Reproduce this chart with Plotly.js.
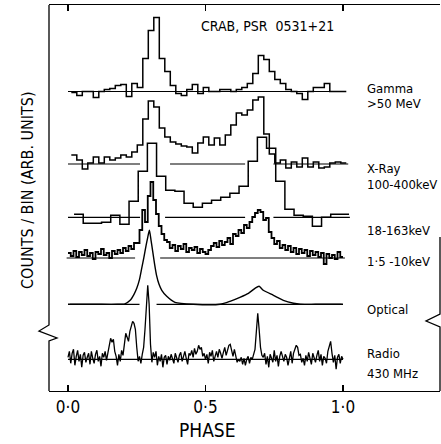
<!DOCTYPE html>
<html><head><meta charset="utf-8">
<script src="https://cdn.plot.ly/plotly-3.0.1.min.js"></script>
<style>html,body{margin:0;padding:0;background:#fff}</style>
</head><body><div id="chart" style="width:441px;height:444px"></div>
<script>
// ---- data (arbitrary units) ----
const phaseTicks = [0, 0.5, 1.0];
const phaseTickLabels = ['0·0', '0·5', '1·0'];

// Gamma >50 MeV, 50 bins
const gammaCounts = [-1,-4,0,0,-6,0,2,3,6,7,-5,8,4,33,61,74,33,20,6,-2,-4,2,7,-2,4,0,0,2,2,0,2,4,8,18,36,32,20,12,8,2,0,-2,-8,0,4,4,8,0,0,0];
// X-Ray 100-400 keV, 50 bins
const xrayHardCounts = [9,4,-5,1,7,1,7,4,6,9,7,12,19,45,63,57,36,27,22,20,18,17,11,21,27,19,26,19,29,39,51,49,54,64,67,30,10,1,4,-4,2,-3,6,-3,2,-4,-3,1,2,1];
// 18-163 keV, 30 bins
const xrayMidCounts = [3,-6,-6,-5,2,-7,16,46,74,41,27,26,14,10,14,17,20,24,31,56,80,69,36,8,2,1,-9,0,3,3];
// 1.5-10 keV, 100 bins
const xraySoftCounts = [5,2,7,1,6,3,8,2,5,-1,6,4,9,3,5,0,7,4,8,5,10,7,12,9,15,15,28,48,36,62,76,58,44,32,24,18,16,10,13,7,12,9,14,6,10,8,11,5,9,6,4,8,12,15,11,17,13,16,20,14,24,22,28,25,33,30,36,41,45,48,46,38,40,26,20,14,17,10,13,8,12,6,10,4,9,5,8,2,7,3,6,1,5,-6,4,0,3,-1,6,1];
// Optical
const opticalPhase = [0,0.1,0.18,0.207,0.226,0.24,0.25,0.26,0.268,0.276,0.284,0.29,0.296,0.302,0.308,0.315,0.322,0.331,0.341,0.359,0.389,0.456,0.553,0.589,0.625,0.656,0.68,0.695,0.71,0.747,0.783,0.82,0.844,0.9,1.0];
const opticalFlux  = [0,0,0,0.5,4,10,16,25,36,47,59,67,74,64,53,40,29,20,14,8,2,0,0,3,7,11,16,18,14,9,4,1,0,0,0];
// Radio 430 MHz, 201 samples (phase step 0.005)
const radioFlux = [2,8,-4,6,10,-6,3,9,-2,5,-8,4,7,-3,2,6,-5,8,1,-4,5,9,-2,3,-7,6,2,8,-1,
  6,14,21,17,20,8, 3,-6,5,-2,9,4, 15,26,22,18, 28,33,38,36,30, 12,-2,3,-4,
  5,12,30,60,74,55,15,-3,
  7,2,8,-6,3,-2,5,-8,2,4,-5,3,-1,5,1,-4,6,2,-3,4,7,-2,3,8,1,-5,6,4,9,2,11,5,8,14,10,12,3,6,0,
  5,-4,7,3,9,-2,4,8,2,10,6,1, 7,12,4,9,14,15,8,3,10,2,-3,0, -2,2,-5,1,-6,0,3,-4,2,0,4,10,
  28,46,30,12,4,2, 6,-5,3,-8,5,1,-3,9,-2,4,-7,3,8,3,-2,5,2,-6,
  2,8,-4,6,10,14,12,4,5,-3,1,-6,4,-2,7,2,-5,6,1,-3,
  4,9,-2,5,-6,3,1,-4,8,12,18,6,-3,4,-10,2,5,-4,3,0];
const labelTexts = [['Gamma','>50 MeV'],['X-Ray','100-400keV'],['18-163keV'],['1·5 -10keV'],['Optical'],['Radio','430 MHz']];
const titleText = 'CRAB, PSR  0531+21';

// ---- layout helpers (pixel geometry of the figure) ----
const W = 441, H = 444, ML = 49, MR = 1, MT = 5, MB = 53;
const PW = W - ML - MR, PH = H - MT - MB;
const px2phase = px => (px - 68) / 275;
const xr = [px2phase(ML), px2phase(W - MR)];
const py2y = py => (MT + PH) - py;       // y axis in pixel units, 0 at bottom
const ppx = px => (px - ML) / PW, ppy = py => (MT + PH - py) / PH;

const base = {gamma: py2y(91.5), hard: py2y(164), mid: py2y(217.3), soft: py2y(258), opt: py2y(304.3), radio: py2y(359.3)};
const gaps = {
  gamma: [[0, 1]],
  hard: [[0, 0.262], [0.371, 0.644], [0.747, 1.019]],
  mid: [[0, 0.262], [0.353, 0.644], [0.747, 1.025]],
  soft: [[-0.005, 0.244], [0.335, 1.007]],
  opt: [[0.007, 0.26], [0.322, 0.995]],
  radio: [[0, 1]]
};
const LC = '#000';
function hist(vals, p0, w, b, lw) {
  const x = [], y = [];
  vals.forEach((v, i) => { x.push(p0 + i * w); y.push(b + v); });
  x.push(p0 + vals.length * w); y.push(b + vals[vals.length - 1]);
  return {x, y, mode: 'lines', line: {shape: 'hv', color: LC, width: lw}, hoverinfo: 'skip'};
}
function baseline(key) {
  const x = [], y = [];
  gaps[key].forEach(s => { x.push(s[0], s[1], null); y.push(base[key], base[key], null); });
  return {x, y, mode: 'lines', line: {color: LC, width: 1.2}, hoverinfo: 'skip', connectgaps: false};
}
const traces = [];
['gamma','hard','mid','soft','opt','radio'].forEach(k => traces.push(baseline(k)));
traces.push(hist(gammaCounts, 0.012, 0.02, base.gamma, 1.5));
traces.push(hist(xrayHardCounts, 0.012, 0.02, base.hard, 1.5));
traces.push(hist(xrayMidCounts, 0.022, 1/30, base.mid, 1.5));
traces.push(hist(xraySoftCounts, 0, 0.01, base.soft, 1.8));
traces.push({x: opticalPhase, y: opticalFlux.map(v => base.opt + v), mode: 'lines', line: {shape: 'spline', smoothing: 0.6, color: LC, width: 1.4}, hoverinfo: 'skip'});
traces.push({x: radioFlux.map((v, i) => i * 0.005), y: radioFlux.map(v => base.radio + v), mode: 'lines', line: {color: LC, width: 1.3}, hoverinfo: 'skip'});

const F = 'DejaVu Sans Condensed, DejaVu Sans, sans-serif';
const annotations = [];
const labelY = [[88, 103], [169, 184], [230], [262], [309], [353, 373]];
labelTexts.forEach((lines, i) => lines.forEach((t, j) => annotations.push({
  xref: 'paper', yref: 'paper', x: ppx(365), y: ppy(labelY[i][j]), xanchor: 'left', yanchor: 'middle',
  text: t, showarrow: false, font: {family: F, size: 13, color: LC}
})));
annotations.push({xref: 'paper', yref: 'paper', x: ppx(267), y: ppy(26), xanchor: 'center', yanchor: 'middle',
  text: titleText, showarrow: false, font: {family: F, size: 14, color: LC}});
annotations.push({xref: 'paper', yref: 'paper', x: ppx(27), y: ppy(190), xanchor: 'center', yanchor: 'middle',
  text: 'COUNTS / BIN (ARB. UNITS)', textangle: -90, showarrow: false,
  font: {family: F, size: 16, color: LC}});
annotations.push({xref: 'paper', yref: 'paper', x: ppx(207), y: ppy(430), xanchor: 'center', yanchor: 'middle',
  text: 'PHASE', showarrow: false, font: {family: F, size: 19, color: LC}});

const pth = pts => 'M' + pts.map(p => ppx(p[0]) + ',' + ppy(p[1])).join(' L');
const shapes = [
  {type: 'path', xref: 'paper', yref: 'paper', path: pth([[49, 5], [49, 325], [39, 331], [57, 338], [49, 341], [49, 391]]), line: {color: LC, width: 1.3}},
  {type: 'path', xref: 'paper', yref: 'paper', path: pth([[440, 237], [440, 314], [426, 321], [440, 327], [440, 391]]), line: {color: LC, width: 1.3}}
];

const layout = {
  width: W, height: H, margin: {l: ML, r: MR, t: MT, b: MB},
  paper_bgcolor: '#fff', plot_bgcolor: '#fff', showlegend: false,
  xaxis: {range: xr, showgrid: false, zeroline: false, showline: true, mirror: 'ticks', linecolor: LC, linewidth: 1.3,
    ticks: 'inside', ticklen: 6, tickwidth: 1.3, tickcolor: LC, tickvals: phaseTicks, ticktext: phaseTickLabels,
    tickfont: {family: F, size: 17, color: LC}},
  yaxis: {range: [0, PH], showgrid: false, zeroline: false, showline: false, showticklabels: false, ticks: ''},
  annotations, shapes
};
Plotly.newPlot('chart', traces, layout, {staticPlot: true, displayModeBar: false});
</script></body></html>
